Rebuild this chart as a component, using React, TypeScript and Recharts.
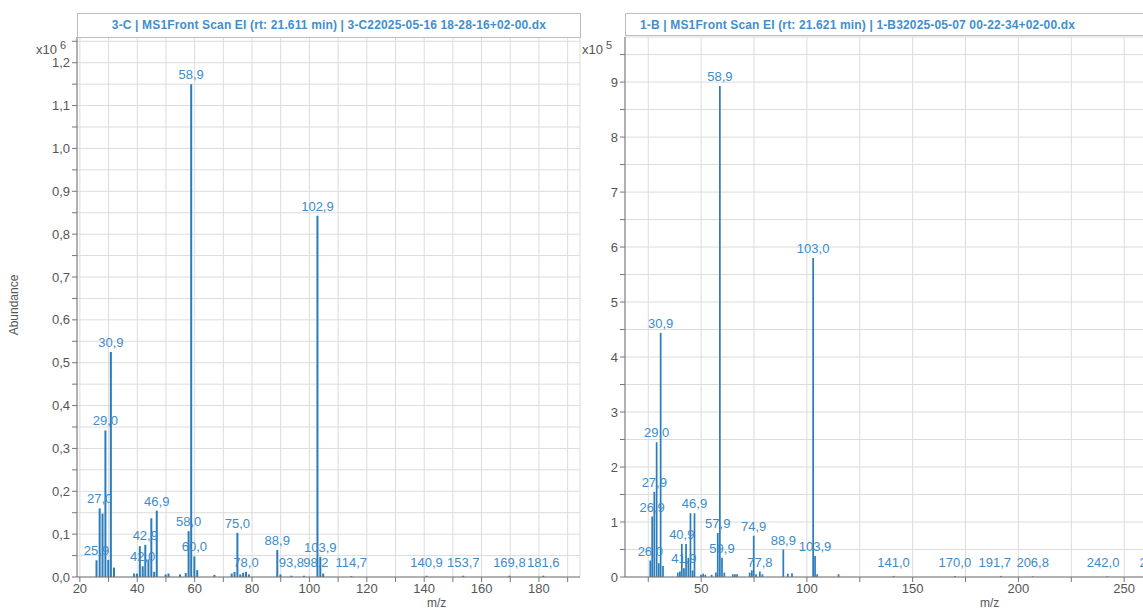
import React from 'react';
import { ComposedChart, Bar, XAxis, YAxis, CartesianGrid, LabelList } from 'recharts';

// 3-C spectrum (abundance in counts)
const leftMz = [
  25.9, 27.0, 28.0, 29.0, 30.0, 30.9, 32.0, 39.0, 40.0, 41.0, 42.0, 42.9, 44.0, 45.0, 46.0, 46.9,
  50.0, 51.0, 55.0, 57.0, 58.0, 58.9, 60.0, 61.0, 67.0, 73.0, 74.0, 75.0, 76.0, 77.0, 78.0, 79.0,
  88.9, 90.0, 93.8, 98.2, 102.9, 103.9, 104.9, 114.7, 140.9, 153.7, 169.8, 181.6,
];
const leftAbundance = [
  39000, 160000, 148000, 342000, 40000, 525000, 22000, 8000, 8000, 72000, 25000, 75000, 41000, 137000, 12000, 155000,
  6000, 8000, 6000, 9000, 107000, 1150000, 48000, 16000, 5000, 8000, 12000, 103000, 6000, 10000, 12000, 6000,
  63000, 6000, 3000, 3000, 843000, 47000, 8000, 2000, 3000, 3000, 3000, 3000,
];
const leftLabeled = [
  25.9, 27.0, 29.0, 30.9, 42.0, 42.9, 46.9, 58.0, 58.9, 60.0, 75.0, 78.0, 88.9, 93.8, 98.2, 102.9, 103.9,
  114.7, 140.9, 153.7, 169.8, 181.6,
];
const leftXTicks = [20, 30, 40, 50, 60, 70, 80, 90, 100, 110, 120, 130, 140, 150, 160, 170, 180, 190];
const leftYTicks = [
  0, 50000, 100000, 150000, 200000, 250000, 300000, 350000, 400000, 450000, 500000, 550000, 600000,
  650000, 700000, 750000, 800000, 850000, 900000, 950000, 1000000, 1050000, 1100000, 1150000, 1200000, 1250000,
];

// 1-B spectrum
const rightMz = [
  26.0, 26.9, 27.9, 29.0, 30.0, 30.9, 32.0, 39.0, 40.0, 40.9, 41.9, 42.9, 44.0, 45.0, 46.0, 46.9,
  50.0, 51.0, 52.0, 55.0, 57.0, 57.9, 58.9, 59.9, 61.0, 65.0, 66.0, 67.0, 73.0, 74.0, 74.9, 76.0,
  77.8, 79.0, 88.9, 91.0, 93.0, 103.0, 103.9, 104.9, 115.0, 141.0, 170.0, 191.7, 206.8, 242.0, 265.0,
];
const rightAbundance = [
  30000, 110000, 155000, 245000, 25000, 444000, 20000, 8000, 10000, 60000, 16000, 60000, 35000, 116000, 12000, 116000,
  4000, 6000, 4000, 4000, 8000, 80000, 893000, 35000, 8000, 5000, 5000, 5000, 8000, 12000, 75000, 5000,
  10000, 5000, 50000, 6000, 7000, 580000, 38000, 5000, 5000, 2000, 2000, 2000, 1000, 1000, 1000,
];
const rightLabeled = [
  26.0, 26.9, 27.9, 29.0, 30.9, 40.9, 41.9, 46.9, 57.9, 58.9, 59.9, 74.9, 77.8, 88.9, 103.0, 103.9,
  141.0, 170.0, 191.7, 206.8, 242.0, 265.0,
];
const rightXTicks = [25, 50, 75, 100, 125, 150, 175, 200, 225, 250, 275];
const rightYTicks = [
  0, 50000, 100000, 150000, 200000, 250000, 300000, 350000, 400000, 450000, 500000, 550000, 600000,
  650000, 700000, 750000, 800000, 850000, 900000, 950000,
];

// labels pushed sideways by the instrument software to avoid collisions
const labelShift: Record<string, number> = { '98,2': 12, '191,7': -6, '242,0': -4 };

const BAR = '#2b7cba';
const LABEL = '#3b8ccb';
const AXIS_TEXT = '#555';
const FONT = '"Liberation Sans", Arial, sans-serif';

const build = (mz: number[], ab: number[], labeled: number[]) =>
  mz.map((m, i) => ({
    mz: m,
    ab: ab[i],
    label: labeled.includes(m) ? m.toFixed(1).replace('.', ',') : '',
  }));

const leftData = build(leftMz, leftAbundance, leftLabeled);
const rightData = build(rightMz, rightAbundance, rightLabeled);

const renderPeakLabel = (props: any) => {
  const { x, y, width, value } = props;
  if (!value) return null;
  const dx = labelShift[value] ?? 0;
  return (
    <text x={x + width / 2 + dx} y={Math.min(y, 572) - 5} textAnchor="middle" fill={LABEL} fontSize={13} fontFamily={FONT}>
      {value}
    </text>
  );
};

const tickStyle = { fill: AXIS_TEXT, fontSize: 13, fontFamily: FONT };

interface SpectrumProps {
  data: { mz: number; ab: number; label: string }[];
  width: number;
  xDomain: [number, number];
  yMax: number;
  xTicks: number[];
  yTicks: number[];
  xLabelEvery: number;
  yScale: number;
  yDecimals: number;
  marginLeft: number;
  marginRight: number;
}

const Spectrum: React.FC<SpectrumProps> = ({
  data, width, xDomain, yMax, xTicks, yTicks, xLabelEvery, yScale, yDecimals, marginLeft, marginRight,
}) => (
  <ComposedChart
    width={width}
    height={612}
    data={data}
    margin={{ top: 37, right: marginRight, bottom: 5, left: marginLeft }}
  >
    <CartesianGrid stroke="#dcdcdc" />
    <XAxis
      type="number"
      dataKey="mz"
      domain={xDomain}
      allowDataOverflow
      ticks={xTicks}
      interval={0}
      height={30}
      tick={tickStyle}
      tickSize={5}
      stroke="#777"
      tickFormatter={(v: number) => (v % xLabelEvery === 0 ? String(v) : '')}
    />
    <YAxis
      type="number"
      domain={[0, yMax]}
      allowDataOverflow
      ticks={yTicks}
      interval={0}
      width={40}
      tick={tickStyle}
      tickSize={5}
      stroke="#777"
      tickFormatter={(v: number) =>
        v % 100000 === 0 ? (v / yScale).toFixed(yDecimals).replace('.', ',') : ''
      }
    />
    <Bar dataKey="ab" fill={BAR} barSize={2} isAnimationActive={false}>
      <LabelList dataKey="label" content={renderPeakLabel} />
    </Bar>
  </ComposedChart>
);

const titleStyle: React.CSSProperties = {
  position: 'absolute',
  top: 13,
  height: 23,
  border: '1px solid #bdbdbd',
  background: '#fff',
  color: '#3f8fcf',
  fontFamily: FONT,
  fontWeight: 'bold',
  fontSize: 12,
  letterSpacing: 0.15,
  lineHeight: '23px',
  whiteSpace: 'nowrap',
  overflow: 'hidden',
};

const smallText: React.CSSProperties = {
  position: 'absolute',
  color: AXIS_TEXT,
  fontFamily: FONT,
  fontSize: 13,
  whiteSpace: 'nowrap',
};

export default function App() {
  return (
    <div style={{ position: 'absolute', left: 0, top: 0, width: 1143, height: 612, overflow: 'hidden', background: '#fff' }}>
      <div style={{ position: 'absolute', left: 0, top: 0 }}>
        <Spectrum
          data={leftData}
          width={600}
          xDomain={[19, 194.3]}
          yMax={1260000}
          xTicks={leftXTicks}
          yTicks={leftYTicks}
          xLabelEvery={20}
          yScale={1000000}
          yDecimals={1}
          marginLeft={37}
          marginRight={20}
        />
      </div>
      <div style={{ position: 'absolute', left: 590, top: 0 }}>
        <Spectrum
          data={rightData}
          width={600}
          xDomain={[14, 276.4]}
          yMax={982000}
          xTicks={rightXTicks}
          yTicks={rightYTicks}
          xLabelEvery={50}
          yScale={100000}
          yDecimals={0}
          marginLeft={-5}
          marginRight={10}
        />
      </div>

      <div style={{ ...titleStyle, left: 77, width: 502, textAlign: 'center' }}>
        3-C | MS1Front Scan EI (rt: 21.611 min) | 3-C22025-05-16 18-28-16+02-00.dx
      </div>
      <div style={{ ...titleStyle, left: 625, width: 555, paddingLeft: 14, boxSizing: 'border-box' }}>
        1-B | MS1Front Scan EI (rt: 21.621 min) | 1-B32025-05-07 00-22-34+02-00.dx
      </div>

      <div style={{ ...smallText, left: 36, top: 39 }}>
        x10<sup style={{ fontSize: 11, marginLeft: 3 }}>6</sup>
      </div>
      <div style={{ ...smallText, left: 582, top: 39 }}>
        x10<sup style={{ fontSize: 11, marginLeft: 3 }}>5</sup>
      </div>

      <div style={{ ...smallText, left: -16, top: 298, transform: 'rotate(-90deg)', fontSize: 12 }}>Abundance</div>
      <div style={{ ...smallText, left: 427, top: 596, fontSize: 12 }}>m/z</div>
      <div style={{ ...smallText, left: 980, top: 596, fontSize: 12 }}>m/z</div>
    </div>
  );
}
